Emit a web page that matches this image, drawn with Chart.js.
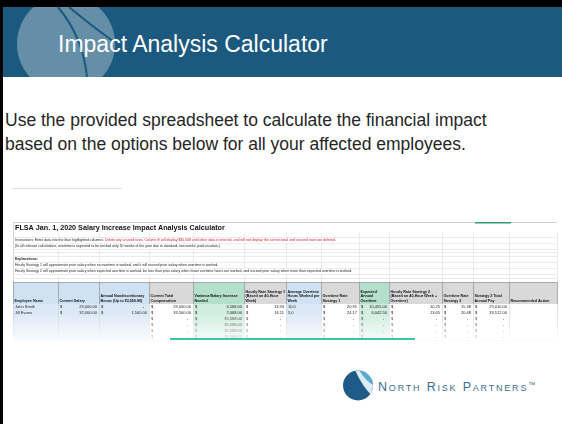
<!DOCTYPE html>
<html lang="en">
<head>
  <meta charset="UTF-8">
  <title>Impact Analysis Calculator</title>
  <script src="https://cdn.jsdelivr.net/npm/chart.js"></script>
  <style>
    html, body {
      margin: 0;
      padding: 0;
    }
    body {
      width: 562px;
      height: 424px;
      position: relative;
      overflow: hidden;
      background: #fff;
      font-family: "Liberation Sans", Arial, sans-serif;
    }
    .edge-top { position: absolute; left: 0; top: 0; width: 562px; height: 7px; background: #000; }
    .edge-left { position: absolute; left: 0; top: 0; width: 3px; height: 424px; background: #000; z-index: 5; }
    .title-bar {
      position: absolute;
      left: 3px; top: 7px;
      width: 559px; height: 70px;
      background: #1b5a7e;
      overflow: hidden;
    }
    .title-bar svg { position: absolute; left: 0; top: 0; }
    .title-bar h1 {
      position: absolute;
      left: 55px; top: 26px;
      margin: 0;
      font-size: 23px;
      line-height: 23px;
      font-weight: normal;
      color: #fff;
    }
    .intro {
      position: absolute;
      left: 5px; top: 108px;
      width: 495px;
      margin: 0;
      font-size: 17.5px;
      line-height: 24px;
      color: #262626;
    }
    .rule {
      position: absolute;
      left: 12px; top: 188px;
      width: 110px; height: 1px;
      background: #e6dde8;
    }
    #sheet {
      position: absolute;
      left: 12px; top: 218px;
    }
    .accent {
      position: absolute;
      left: 170px; top: 338px;
      width: 245px; height: 2px;
      background: #3cc6a8;
    }
    .logo {
      position: absolute;
      left: 343px; top: 370px;
    }
    .logo-text {
      position: absolute;
      left: 378px; top: 377px;
      font-size: 12.5px;
      line-height: 16px;
      font-variant: small-caps;
      letter-spacing: 1.8px;
      color: #3a6f96;
      white-space: nowrap;
    }
    .logo-text sup { font-size: 7px; letter-spacing: 0; vertical-align: 4px; }
  </style>
</head>
<body>
  <div class="edge-top"></div>
  <div class="edge-left"></div>

  <div class="title-bar">
    <svg width="559" height="70">
      <circle cx="63" cy="37" r="49" fill="rgba(255,255,255,0.32)"/>
      <path d="M55 0 Q80 30 84 70" stroke="#1b5a7e" stroke-width="2" fill="none"/>
      <path d="M66 0 Q90 20 110 34" stroke="#1b5a7e" stroke-width="2" fill="none"/>
    </svg>
    <h1>Impact Analysis Calculator</h1>
  </div>

  <p class="intro">Use the provided spreadsheet to calculate the financial impact based on the options below for all your affected employees.</p>
  <div class="rule"></div>

  <canvas id="sheet" width="546" height="128"></canvas>
  <div class="accent"></div>

  <svg class="logo" width="30" height="31">
    <defs><clipPath id="ball"><circle cx="15" cy="15.5" r="15"/></clipPath></defs>
    <g clip-path="url(#ball)">
      <rect width="30" height="31" fill="#1f5b87"/>
      <path d="M12 0 Q19 16 30 27 L30 0 Z" fill="#dcecf6"/>
      <path d="M16 0 Q22 10 30 15 L30 0 Z" fill="#5da7d3"/>
    </g>
  </svg>
  <div class="logo-text">North Risk Partners<sup>™</sup></div>

  <script>
    // spreadsheet contents
    const sheetTitle = 'FLSA Jan. 1, 2020 Salary Increase Impact Analysis Calculator';
    const instructionText = 'Instructions: Enter data into the blue highlighted columns. ';
    const warningText = 'Delete any unused rows. Column E will display $35,568 until other data is entered, and will not display the correct total until unused rows are deleted.';
    const vacationNote = '(In all relevant calculations, overtime is expected to be worked only 50 weeks of the year due to standard, two weeks\' paid vacation.)';
    const explanationNotes = [
      'Hourly Strategy 1 will approximate prior salary when no overtime is worked, and it will exceed prior salary when overtime is worked.',
      'Hourly Strategy 2 will approximate prior salary when expected overtime is worked, be less than prior salary when fewer overtime hours are worked, and exceed prior salary when more than expected overtime is worked.'
    ];

    const headers = [
      ['Employee Name'],
      ['Current Salary'],
      ['Annual Nondiscretionary', 'Bonus (Up to $3,556.80)'],
      ['Current Total', 'Compensation'],
      ['Variance/Salary Increase', 'Needed'],
      ['Hourly Rate Strategy 1', '(Based on 40-Hour', 'Week)'],
      ['Average Overtime', 'Hours Worked per', 'Week'],
      ['Overtime Rate', 'Strategy 1'],
      ['Expected', 'Annual', 'Overtime'],
      ['Hourly Rate Strategy 2', '(Based on 40-Hour Week +', 'Overtime)'],
      ['Overtime Rate', 'Strategy 2'],
      ['Strategy 2 Total', 'Annual Pay'],
      ['Recommended Action']
    ];

    const employees = ['John Smith', 'Jill Evans'];
    const currentSalary = [29000, 32000];
    const annualBonus = [null, 1500];
    const totalComp = [29000, 33500, null, null, null, null];
    const increaseNeeded = [6568, 2068, 35568, 35568, 35568, 35568];
    const hourlyRate1 = [13.94, 16.11, null, null, null, null];
    const avgOvertimeHours = [10.0, 5.0];
    const overtimeRate1 = [20.91, 24.17, null, null, null, null];
    const expectedOvertime = [10455, 6042.5, null, null, null, null];
    const hourlyRate2 = [10.25, 13.65, null, null, null, null];
    const overtimeRate2 = [15.38, 20.48, null, null, null, null];
    const strategy2Pay = [29010, 33512, null, null, null, null];

    const columns = [
      { values: employees, kind: 'input', fmt: 'text' },
      { values: currentSalary, kind: 'input', fmt: 'money' },
      { values: annualBonus, kind: 'input', fmt: 'money' },
      { values: totalComp, kind: 'calc', fmt: 'money' },
      { values: increaseNeeded, kind: 'result', fmt: 'money' },
      { values: hourlyRate1, kind: 'calc', fmt: 'money' },
      { values: avgOvertimeHours, kind: 'input', fmt: 'hours' },
      { values: overtimeRate1, kind: 'calc', fmt: 'money' },
      { values: expectedOvertime, kind: 'result', fmt: 'money' },
      { values: hourlyRate2, kind: 'calc', fmt: 'money' },
      { values: overtimeRate2, kind: 'calc', fmt: 'money' },
      { values: strategy2Pay, kind: 'calc', fmt: 'money' },
      { values: [], kind: 'calc', fmt: 'text' }
    ];

    // grid geometry in scale units
    const colEdges = [1, 46, 87, 137, 181, 232, 274, 309, 347, 377, 430, 461, 497, 545];
    const noteRowEdges = [15, 19, 25.5, 31, 34, 38, 44, 50, 56, 60, 64];
    const headerTop = 64, headerBottom = 86, dataRowHeight = 6, dataRowCount = 6;

    const headFill = { input: '#cfe2f3', calc: '#d9d9d9', result: '#b3dfcb' };
    const cellFill = { input: '#dbe9f6', calc: '#ffffff', result: '#d0ede0' };

    const money = v => v.toLocaleString('en-US', { minimumFractionDigits: 2, maximumFractionDigits: 2 });

    const sheetPlugin = {
      id: 'sheetPlugin',
      afterDraw(chart) {
        const { ctx, scales: { x, y } } = chart;
        const X = v => x.getPixelForValue(v);
        const Y = v => y.getPixelForValue(v);
        const left = X(colEdges[0]), right = X(colEdges[colEdges.length - 1]);
        ctx.save();
        ctx.textBaseline = 'middle';

        // frame + selected cell marker
        ctx.fillStyle = '#cfcfcf';
        ctx.fillRect(left, Y(4), right - left, 1);
        ctx.fillStyle = '#2f9f72';
        ctx.fillRect(X(colEdges[11]) + 2, Y(4), X(colEdges[12]) - X(colEdges[11]), 1.5);
        ctx.fillStyle = '#d6d6d6';
        ctx.fillRect(left, Y(4), 1, Y(headerTop) - Y(4));

        // title
        ctx.fillStyle = '#111';
        ctx.font = 'bold 7.2px "Liberation Sans", Arial, sans-serif';
        ctx.textAlign = 'left';
        ctx.fillText(sheetTitle, left + 2, Y(9.8));

        // note rows
        const noteText = [null, [[instructionText, '#222'], [warningText, '#e01b1b']], [[vacationNote, '#222']],
          null, null, [['Explanations:', '#222', true]], [[explanationNotes[0], '#222']], [[explanationNotes[1], '#222']], null, null];
        for (let r = 0; r < noteRowEdges.length - 1; r++) {
          const yTop = Y(noteRowEdges[r]), yBot = Y(noteRowEdges[r + 1]);
          ctx.fillStyle = '#e3e3e3';
          ctx.fillRect(left, yBot, right - left, 0.7);
          let tx = left + 2;
          if (noteText[r]) {
            noteText[r].forEach(([t, color, bold]) => {
              ctx.font = (bold ? 'bold ' : '') + '3.5px "Liberation Sans", Arial, sans-serif';
              ctx.fillStyle = color;
              ctx.fillText(t, tx, (yTop + yBot) / 2);
              tx += ctx.measureText(t).width;
            });
          }
          ctx.fillStyle = '#e3e3e3';
          colEdges.slice(1).forEach(c => {
            if (X(c) > tx + 1) ctx.fillRect(X(c), yTop, 0.7, yBot - yTop);
          });
        }

        // header row
        columns.forEach((col, i) => {
          const x0 = X(colEdges[i]), x1 = X(colEdges[i + 1]);
          ctx.fillStyle = headFill[col.kind];
          ctx.fillRect(x0, Y(headerTop), x1 - x0, Y(headerBottom) - Y(headerTop));
          ctx.fillStyle = '#111';
          ctx.font = 'bold 3.7px "Liberation Sans", Arial, sans-serif';
          ctx.textAlign = 'left';
          const lines = headers[i];
          lines.forEach((t, k) => {
            ctx.fillText(t, x0 + 1.5, Y(headerBottom) - 3 - (lines.length - 1 - k) * 4.6);
          });
        });
        ctx.fillStyle = '#9c9c9c';
        ctx.fillRect(left, Y(headerTop), right - left, 0.8);
        ctx.fillRect(left, Y(headerBottom), right - left, 0.8);
        colEdges.forEach(c => ctx.fillRect(X(c), Y(headerTop), 0.8, Y(headerBottom) - Y(headerTop)));

        // data rows
        for (let r = 0; r < dataRowCount; r++) {
          const yTop = Y(headerBottom + r * dataRowHeight), yBot = Y(headerBottom + (r + 1) * dataRowHeight);
          const yMid = (yTop + yBot) / 2;
          columns.forEach((col, i) => {
            const x0 = X(colEdges[i]), x1 = X(colEdges[i + 1]);
            ctx.fillStyle = cellFill[col.kind];
            ctx.fillRect(x0, yTop, x1 - x0, yBot - yTop);
            ctx.font = '4px "Liberation Sans", Arial, sans-serif';
            ctx.fillStyle = '#222';
            if (r >= col.values.length) return;
            const v = col.values[r];
            if (col.fmt === 'text') {
              ctx.textAlign = 'left';
              ctx.fillText(v, x0 + 2, yMid);
            } else if (col.fmt === 'hours') {
              ctx.textAlign = 'left';
              ctx.fillText(v.toFixed(1), x0 + 2, yMid);
            } else {
              ctx.textAlign = 'left';
              ctx.fillText('$', x0 + 2, yMid);
              ctx.textAlign = 'right';
              ctx.fillText(v == null ? '-' : money(v), x1 - (v == null ? 5 : 2), yMid);
            }
          });
          ctx.fillStyle = '#cdcdcd';
          ctx.fillRect(left, yBot, right - left, 0.6);
          colEdges.forEach(c => ctx.fillRect(X(c), yTop, 0.6, yBot - yTop));
        }

        // screenshot fades out towards the bottom
        const fadeTop = Y(headerBottom + 1.4 * dataRowHeight), fadeBot = Y(128);
        const g = ctx.createLinearGradient(0, fadeTop, 0, fadeBot);
        g.addColorStop(0, 'rgba(255,255,255,0)');
        g.addColorStop(0.85, 'rgba(255,255,255,0.85)');
        g.addColorStop(1, 'rgba(255,255,255,1)');
        ctx.fillStyle = g;
        ctx.fillRect(0, fadeTop, chart.width, fadeBot - fadeTop);
        ctx.restore();
      }
    };

    new Chart(document.getElementById('sheet'), {
      type: 'scatter',
      data: { datasets: [] },
      options: {
        responsive: false,
        animation: false,
        events: [],
        layout: { padding: 0 },
        plugins: { legend: { display: false }, tooltip: { enabled: false } },
        scales: {
          x: { type: 'linear', min: 0, max: 546, display: false },
          y: { type: 'linear', min: 0, max: 128, reverse: true, display: false }
        }
      },
      plugins: [sheetPlugin]
    });
  </script>
</body>
</html>
